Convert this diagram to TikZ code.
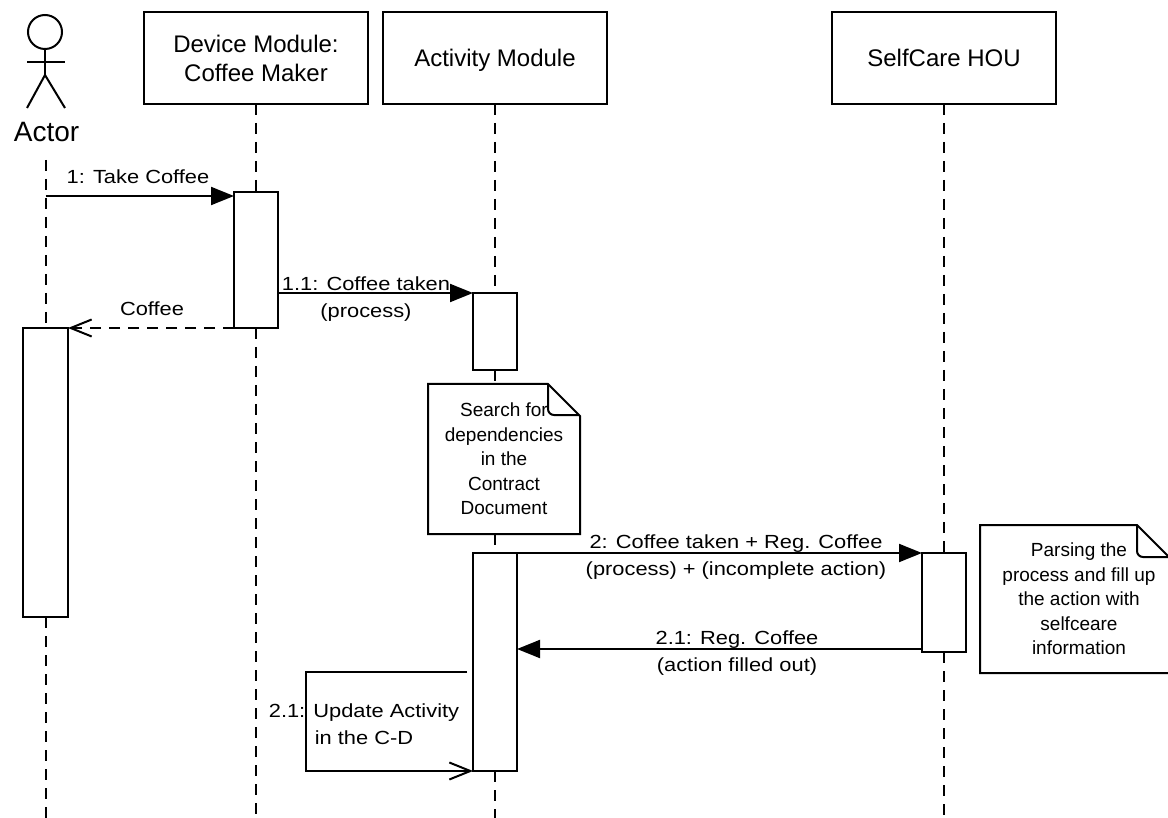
\documentclass[tikz,border=0pt]{standalone}
\usepackage{fontspec}
\setmainfont{Liberation Sans}
\newfontfamily\msgfont[FakeStretch=1.15]{Liberation Sans}
\usetikzlibrary{arrows.meta}
\tikzset{
  lw/.style={line width=2pt},
  box/.style={draw, line width=2pt, fill=white, inner sep=0pt, outer sep=0pt},
  head/.style={box, minimum width=224pt, minimum height=92pt, align=center,
    text depth=0pt, font=\fontsize{24}{29}\selectfont},
  actbox/.style={box, minimum width=44pt, anchor=north west},
  lifeline/.style={line width=2pt, dash pattern=on 11pt off 8pt},
  msg/.style={line width=2pt, -{Triangle[length=23pt,width=18pt]}},
  reply/.style={line width=2pt, dash pattern=on 11pt off 8pt,
    -{Straight Barb[length=21pt,width=17pt]}},
  selfmsg/.style={line width=2pt, -{Straight Barb[length=21pt,width=17pt]}},
  lbl/.style={inner sep=0pt, align=center, font=\msgfont\fontsize{19}{27}\selectfont},
  notebox/.style={inner sep=0pt, outer sep=0pt, anchor=north west},
  notetxt/.style={inner sep=0pt, align=center, font=\fontsize{19}{24.6}\selectfont},
  noteframe/.style={line width=2pt, line join=miter},
}
\begin{document}
\begin{tikzpicture}[x=1pt,y=-1pt]
\useasboundingbox (0,0) rectangle (1168,818);

% ---- actor figure
\coordinate (head) at (45,32);
\coordinate (neck) at (45,49);
\coordinate (hip) at (45,75);
\draw[lw] (head) circle[radius=17pt];
\draw[lw] (neck) -- (hip);
\draw[lw] (27,62) -- (65,62);
\draw[lw] (27,108) -- (hip) -- (65,108);
\node[inner sep=0pt, anchor=base, font=\fontsize{28}{32}\selectfont] (actorlbl) at (46.5,142) {Actor};

% ---- header boxes
\node[head] (dev) at (256,58) {Device Module:\\Coffee Maker};
\node[head] (act) at (495,58) {Activity Module};
\node[head] (self) at (944,58) {SelfCare HOU};

% ---- lifeline end coordinates
\coordinate (actorTop) at (45.5,160);
\coordinate (actorEnd) at (45.5,818);
\coordinate (devEnd) at (256,818);
\coordinate (actEnd) at (495,818);
\coordinate (selfEnd) at (944,818);

% ---- notes (positions)
\node[notebox, minimum width=152pt, minimum height=150pt] (n1) at (428,384) {};
\node[notebox, minimum width=190pt, minimum height=148pt] (n2) at (980,525) {};

% ---- activation boxes (positions only, drawn later)
\path (23,328) node[actbox, minimum width=45pt, minimum height=289pt] (aA) {};
\path (234,192) node[actbox, minimum height=136pt] (aD) {};
\path (473,293) node[actbox, minimum height=77pt] (aM1) {};
\path (473,553) node[actbox, minimum height=218pt] (aM2) {};
\path (922,553) node[actbox, minimum height=99pt] (aS) {};

% ---- lifelines
\draw[lifeline] (actorTop) -- (aA.north);
\draw[lifeline] (aA.south) -- (actorEnd);
\draw[lifeline] (dev.south) -- (aD.north);
\draw[lifeline] (aD.south) -- (devEnd);
\draw[lifeline] (act.south) -- (aM1.north);
\draw[lifeline] (aM1.south) -- (aM1.south |- n1.north);
\draw[lifeline] (aM1.south |- n1.south) -- (aM2.north);
\draw[lifeline] (aM2.south) -- (actEnd);
\draw[lifeline] (self.south) -- (aS.north);
\draw[lifeline] (aS.south) -- (selfEnd);

% ---- activation boxes drawn on top
\node[actbox, minimum width=45pt, minimum height=289pt] at (23,328) (aAd) {};
\node[actbox, minimum height=136pt] at (234,192) (aDd) {};
\node[actbox, minimum height=77pt] at (473,293) (aM1d) {};
\node[actbox, minimum height=218pt] at (473,553) (aM2d) {};
\node[actbox, minimum height=99pt] at (922,553) (aSd) {};

% ---- notes
\draw[noteframe, fill=white] (n1.north west) -- ([xshift=-32pt]n1.north east)
  -- ([yshift=-32pt]n1.north east) -- (n1.south east) -- (n1.south west) -- cycle;
\draw[lw, rounded corners=6pt] ([xshift=-32pt]n1.north east) |- ([yshift=-31pt,xshift=-1pt]n1.north east);
\node[notetxt] (n1t) at (n1.center) {Search for\\dependencies\\in the\\Contract\\Document};

\draw[noteframe, fill=white] (n2.north west) -- ([xshift=-33pt]n2.north east)
  -- ([yshift=-33pt]n2.north east) -- (n2.south east) -- (n2.south west) -- cycle;
\draw[lw, rounded corners=6pt] ([xshift=-33pt]n2.north east) |- ([yshift=-32pt,xshift=-1pt]n2.north east);
\node[notetxt] (n2t) at ([xshift=4pt]n2.center) {Parsing the\\process and fill up\\the action with\\selfceare\\information};

% ---- messages
\coordinate (m1) at (45.5,196);
\draw[msg] (m1) -- (m1 -| aD.west);
\node[lbl, anchor=base] (m1l) at (138,184) {1: Take Coffee};

\draw[msg] (aD.east |- aM1.north west) -- (aM1.north west);
\node[lbl, anchor=north] (m11l) at (366,271.1) {\strut 1.1: Coffee taken\\(process)};

\draw[reply] (aD.south west) -- (aA.north east);
\node[lbl, anchor=base] (rl) at (152,316) {Coffee};

\draw[msg] (aM2.north east) -- (aS.north west);
\node[lbl, anchor=north] (m2l) at (736,529.1) {\strut 2: Coffee taken + Reg. Coffee\\(process) + (incomplete action)};

\coordinate (m21) at (944,649);
\draw[msg] (m21 -| aS.west) -- (m21 -| aM2.east);
\node[lbl, anchor=north] (m21l) at (737,625.1) {\strut 2.1: Reg. Coffee\\(action filled out)};

\coordinate (s1) at (467,672);
\draw[selfmsg] (s1) -- ++(-161,0) |- (aM2.south west);
\node[lbl, anchor=north] (sl) at (364,698.1) {\strut 2.1: Update Activity\\in the C-D};
\end{tikzpicture}
\end{document}
